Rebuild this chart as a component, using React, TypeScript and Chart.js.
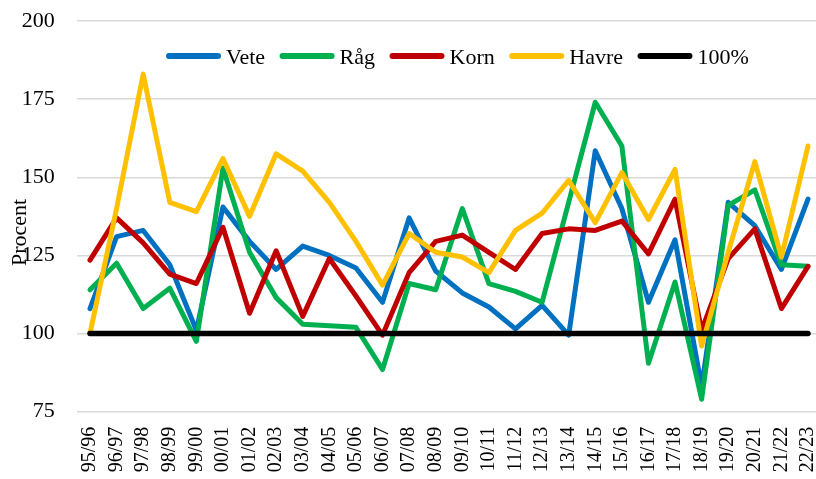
import React, { useEffect, useRef } from "react";
import { Chart, registerables } from "chart.js";

Chart.register(...registerables);

const categories = [
  "95/96", "96/97", "97/98", "98/99", "99/00", "00/01", "01/02", "02/03", "03/04", "04/05",
  "05/06", "06/07", "07/08", "08/09", "09/10", "10/11", "11/12", "12/13", "13/14", "14/15",
  "15/16", "16/17", "17/18", "18/19", "19/20", "20/21", "21/22", "22/23",
];

const vete = [108, 131, 133, 122, 101, 140.5, 129.5, 120.5, 128, 125, 121, 110, 137, 120, 113, 108.5, 101.5, 109, 99.5, 158.5, 140, 110, 130, 83, 142, 134.5, 120.5, 143];
const rag = [114, 122.5, 108, 114.5, 97.5, 153, 126, 111.5, 103, 102.5, 102, 88.5, 116, 114, 140, 116, 113.5, 110, 142, 174, 160, 90.5, 116.5, 79, 141, 146, 122, 121.5];
const korn = [123.5, 137, 129, 119, 116, 134, 106.5, 126.5, 105.5, 124, 112, 99.5, 119.5, 129.5, 131.5, 126, 120.5, 132, 133.5, 133, 136, 125.5, 143, 101, 124, 133.5, 108, 121.5];
const havre = [100, 140, 183, 142, 139, 156, 137.5, 157.5, 152, 142, 129.5, 115.5, 132, 126, 124.5, 119.5, 133, 138.5, 149, 135.5, 151.5, 136.5, 152.5, 96, 126, 155, 124.5, 160];
const hundred = [100, 100, 100, 100, 100, 100, 100, 100, 100, 100, 100, 100, 100, 100, 100, 100, 100, 100, 100, 100, 100, 100, 100, 100, 100, 100, 100, 100];

const seriesNames = ["Vete", "Råg", "Korn", "Havre", "100%"];
const seriesColors = ["#0070C0", "#00B050", "#C00000", "#FFC000", "#000000"];
const yMin = 75;
const yMax = 200;
const yStep = 25;
const yTitle = "Procent";

const FONT = "'Liberation Serif', 'Times New Roman', serif";

const overlayPlugin = {
  id: "overlay",
  afterDraw(chart: any) {
    const ctx = chart.ctx as CanvasRenderingContext2D;
    ctx.save();
    ctx.font = `22px ${FONT}`;
    ctx.fillStyle = "#000";
    ctx.translate(26, 232.5);
    ctx.rotate(-Math.PI / 2);
    ctx.textAlign = "center";
    ctx.textBaseline = "alphabetic";
    ctx.fillText(yTitle, 0, 0);
    ctx.restore();

    ctx.save();
    ctx.font = `22px ${FONT}`;
    ctx.textAlign = "left";
    ctx.textBaseline = "alphabetic";
    let x = 166;
    const yLine = 56;
    const lineLen = 55;
    for (let i = 0; i < seriesNames.length; i++) {
      ctx.strokeStyle = seriesColors[i];
      ctx.lineWidth = 6;
      ctx.lineCap = "round";
      ctx.beginPath();
      ctx.moveTo(x + 3, yLine);
      ctx.lineTo(x + lineLen - 3, yLine);
      ctx.stroke();
      const tx = x + lineLen + 5;
      ctx.fillStyle = "#000";
      ctx.fillText(seriesNames[i], tx, yLine + 7.5);
      const w = ctx.measureText(seriesNames[i]).width;
      x = tx + w + 14.5;
    }
    ctx.restore();
  },
};

export default function App() {
  const ref = useRef<HTMLCanvasElement | null>(null);

  useEffect(() => {
    if (!ref.current) return;
    const data = [vete, rag, korn, havre, hundred];
    const datasets = data.map((d, i) => ({
      label: seriesNames[i],
      data: d,
      borderColor: seriesColors[i],
      backgroundColor: seriesColors[i],
      borderWidth: i === 4 ? 5.5 : 5,
      pointRadius: 0,
      pointHoverRadius: 0,
      tension: 0,
      fill: false,
      borderJoinStyle: "round" as const,
      borderCapStyle: "round" as const,
      order: 5 - i,
    }));
    const chart = new Chart(ref.current, {
      type: "line",
      data: { labels: categories, datasets },
      plugins: [overlayPlugin],
      options: {
        animation: false,
        responsive: false,
        maintainAspectRatio: false,
        layout: { padding: { top: 21, right: 8.7, left: 0, bottom: 0 } },
        plugins: {
          legend: { display: false },
          tooltip: { enabled: false },
          title: { display: false },
        },
        scales: {
          x: {
            type: "category",
            offset: true,
            grid: { display: false, drawTicks: false },
            border: { display: false },
            ticks: {
              autoSkip: false,
              minRotation: 90,
              maxRotation: 90,
              padding: 15,
              color: "#000",
              font: { family: FONT, size: 20 },
            },
            afterFit: (scale: any) => {
              scale.height = 67.3;
              scale.paddingLeft = 0;
              scale.paddingRight = 0;
              scale.paddingTop = 0;
              scale.paddingBottom = 0;
            },
          },
          y: {
            min: yMin,
            max: yMax,
            grid: { color: "#d9d9d9", lineWidth: 1.5, drawTicks: false },
            border: { display: false },
            ticks: {
              stepSize: yStep,
              padding: 22,
              color: "#000",
              font: { family: FONT, size: 22 },
            },
            afterFit: (scale: any) => {
              scale.width = 76.7;
              scale.paddingLeft = 0;
              scale.paddingRight = 0;
              scale.paddingTop = 0;
              scale.paddingBottom = 0;
            },
          },
        },
      },
    });
    return () => chart.destroy();
  }, []);

  return (
    <div
      style={{
        position: "fixed",
        left: 0,
        top: 0,
        width: 816,
        height: 479,
        overflow: "hidden",
        background: "#fff",
      }}
    >
      <canvas ref={ref} width={830} height={479} style={{ display: "block", width: 830, height: 479 }} />
    </div>
  );
}
